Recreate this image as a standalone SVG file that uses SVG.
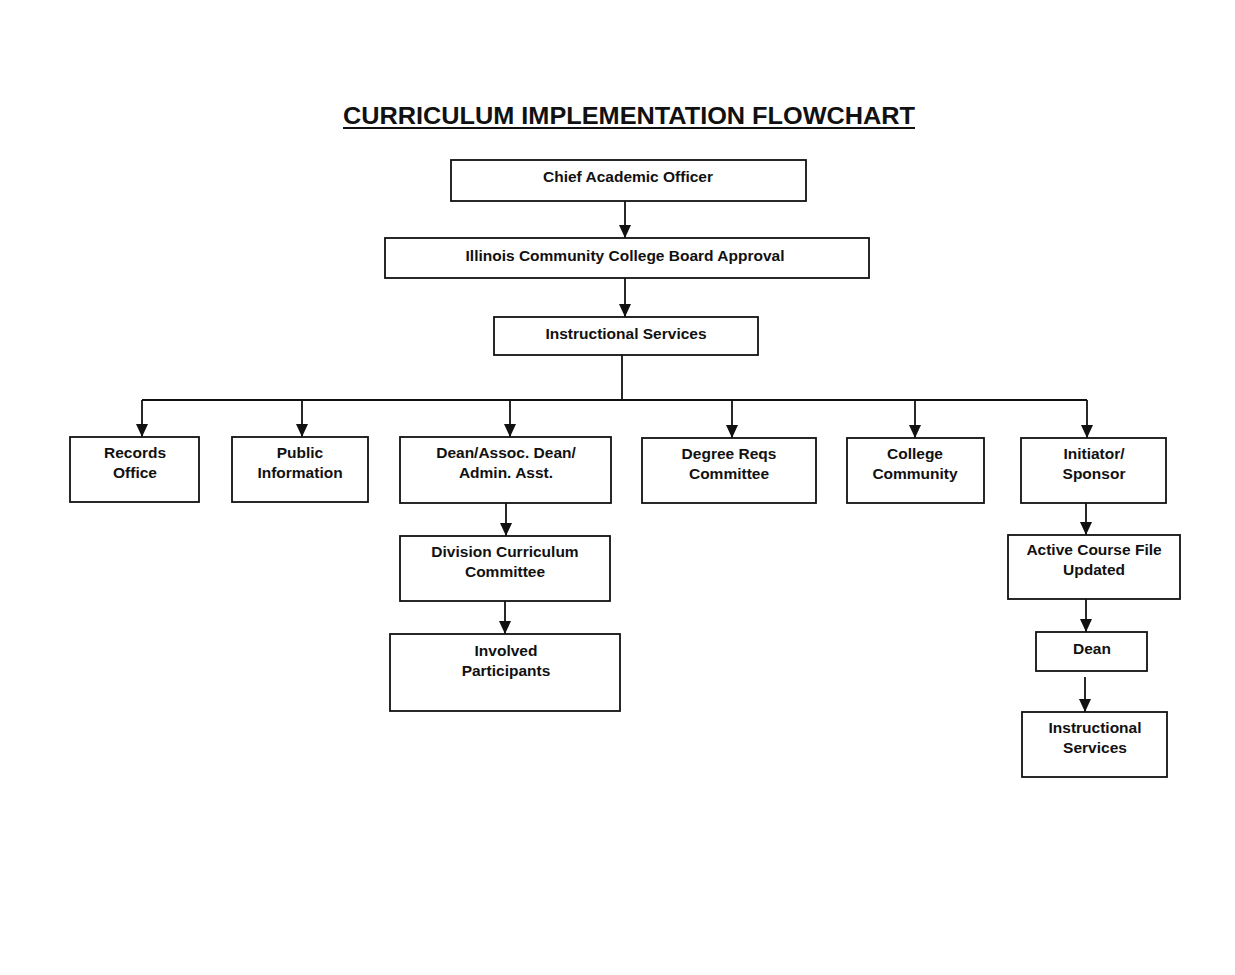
<svg xmlns="http://www.w3.org/2000/svg" width="1235" height="975" viewBox="0 0 1235 975">
<style>
.box{fill:#fff;stroke:#111;stroke-width:1.8}
.t{font-family:"Liberation Sans",Arial,sans-serif;font-weight:bold;font-size:15.5px;fill:#111;text-anchor:middle}
.title{font-family:"Liberation Sans",Arial,sans-serif;font-weight:bold;font-size:24px;fill:#111;text-anchor:middle}
.c{stroke:#111;stroke-width:1.8;fill:none}
</style>
<defs>
<marker id="arr" viewBox="0 0 13 12" refX="13" refY="6" markerWidth="13" markerHeight="12" markerUnits="userSpaceOnUse" orient="auto">
<path d="M0,0 L13,6 L0,12 Z" fill="#111"/>
</marker>
</defs>
<rect width="1235" height="975" fill="#fff"/>
<g id="title">
<text class="title" x="629" y="124" textLength="572" lengthAdjust="spacingAndGlyphs">CURRICULUM IMPLEMENTATION FLOWCHART</text>
<line x1="343" y1="128" x2="915" y2="128" stroke="#111" stroke-width="2"/>
</g>
<g id="connectors">
<line class="c" x1="625" y1="201" x2="625" y2="238" marker-end="url(#arr)"/>
<line class="c" x1="625" y1="278" x2="625" y2="317" marker-end="url(#arr)"/>
<line class="c" x1="622" y1="355" x2="622" y2="400"/>
<line class="c" x1="142" y1="400" x2="1087" y2="400"/>
<line class="c" x1="142" y1="400" x2="142" y2="437" marker-end="url(#arr)"/>
<line class="c" x1="302" y1="400" x2="302" y2="437" marker-end="url(#arr)"/>
<line class="c" x1="510" y1="400" x2="510" y2="437" marker-end="url(#arr)"/>
<line class="c" x1="732" y1="400" x2="732" y2="438" marker-end="url(#arr)"/>
<line class="c" x1="915" y1="400" x2="915" y2="438" marker-end="url(#arr)"/>
<line class="c" x1="1087" y1="400" x2="1087" y2="438" marker-end="url(#arr)"/>
<line class="c" x1="506" y1="503" x2="506" y2="536" marker-end="url(#arr)"/>
<line class="c" x1="505" y1="601" x2="505" y2="634" marker-end="url(#arr)"/>
<line class="c" x1="1086" y1="503" x2="1086" y2="535" marker-end="url(#arr)"/>
<line class="c" x1="1086" y1="599" x2="1086" y2="632" marker-end="url(#arr)"/>
<line class="c" x1="1085" y1="677" x2="1085" y2="712" marker-end="url(#arr)"/>
</g>
<g id="n-cao">
<rect class="box" x="451" y="160" width="355" height="41"/>
<text class="t" x="628" y="182">Chief Academic Officer</text>
</g>
<g id="n-iccb">
<rect class="box" x="385" y="238" width="484" height="40"/>
<text class="t" x="625" y="261">Illinois Community College Board Approval</text>
</g>
<g id="n-is">
<rect class="box" x="494" y="317" width="264" height="38"/>
<text class="t" x="626" y="339">Instructional Services</text>
</g>
<g id="n-records">
<rect class="box" x="70" y="437" width="129" height="65"/>
<text class="t" x="135" y="458">Records</text>
<text class="t" x="135" y="478">Office</text>
</g>
<g id="n-public">
<rect class="box" x="232" y="437" width="136" height="65"/>
<text class="t" x="300" y="458">Public</text>
<text class="t" x="300" y="478">Information</text>
</g>
<g id="n-dean1">
<rect class="box" x="400" y="437" width="211" height="66"/>
<text class="t" x="506" y="458">Dean/Assoc. Dean/</text>
<text class="t" x="506" y="478">Admin. Asst.</text>
</g>
<g id="n-degree">
<rect class="box" x="642" y="438" width="174" height="65"/>
<text class="t" x="729" y="459">Degree Reqs</text>
<text class="t" x="729" y="479">Committee</text>
</g>
<g id="n-college">
<rect class="box" x="847" y="438" width="137" height="65"/>
<text class="t" x="915" y="459">College</text>
<text class="t" x="915" y="479">Community</text>
</g>
<g id="n-initiator">
<rect class="box" x="1021" y="438" width="145" height="65"/>
<text class="t" x="1094" y="459">Initiator/</text>
<text class="t" x="1094" y="479">Sponsor</text>
</g>
<g id="n-division">
<rect class="box" x="400" y="536" width="210" height="65"/>
<text class="t" x="505" y="557">Division Curriculum</text>
<text class="t" x="505" y="577">Committee</text>
</g>
<g id="n-involved">
<rect class="box" x="390" y="634" width="230" height="77"/>
<text class="t" x="506" y="656">Involved</text>
<text class="t" x="506" y="676">Participants</text>
</g>
<g id="n-active">
<rect class="box" x="1008" y="535" width="172" height="64"/>
<text class="t" x="1094" y="555">Active Course File</text>
<text class="t" x="1094" y="575">Updated</text>
</g>
<g id="n-dean2">
<rect class="box" x="1036" y="632" width="111" height="39"/>
<text class="t" x="1092" y="654">Dean</text>
</g>
<g id="n-is2">
<rect class="box" x="1022" y="712" width="145" height="65"/>
<text class="t" x="1095" y="733">Instructional</text>
<text class="t" x="1095" y="753">Services</text>
</g>
</svg>
